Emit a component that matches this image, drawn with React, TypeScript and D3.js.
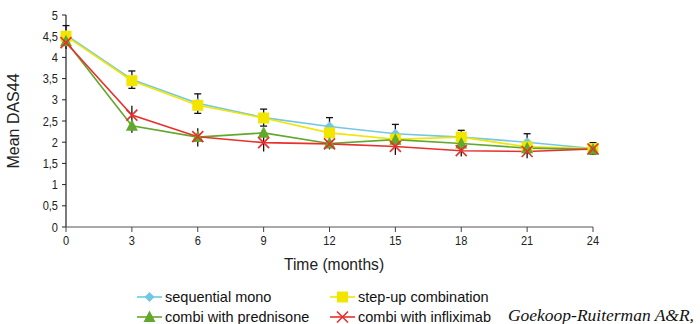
import React from "react";
import * as d3 from "d3";

const months = [0, 3, 6, 9, 12, 15, 18, 21, 24];
const yTicks = [0, 0.5, 1, 1.5, 2, 2.5, 3, 3.5, 4, 4.5, 5];
const yTickLabels = ["0", "0,5", "1", "1,5", "2", "2,5", "3", "3,5", "4", "4,5", "5"];

const seqMono = [4.53, 3.48, 2.92, 2.58, 2.37, 2.2, 2.12, 2.0, 1.85];
const stepUp = [4.5, 3.45, 2.87, 2.57, 2.22, 2.07, 2.12, 1.89, 1.85];
const prednisone = [4.38, 2.39, 2.12, 2.22, 1.97, 2.06, 1.97, 1.86, 1.83];
const infliximab = [4.35, 2.64, 2.13, 1.99, 1.96, 1.9, 1.8, 1.78, 1.84];

// error bar extents (upper for sequential mono, lower for step-up, both for infliximab)
const seqMonoUpper = [4.75, 3.68, 3.14, 2.78, 2.58, 2.42, 2.28, 2.2, 1.99];
const stepUpLower = [4.3, 3.27, 2.68, 2.38, 2.02, 1.95, 1.92, 1.75, 1.72];
const inflixUpper = [4.5, 2.86, 2.33, 2.15, 2.08, 2.05, 1.95, 1.93, 1.95];
const inflixLower = [4.2, 2.22, 1.9, 1.78, 1.83, 1.7, 1.66, 1.62, 1.7];

const seriesNames = ["sequential mono", "step-up combination", "combi with prednisone", "combi with infliximab"];
const colors = ["#72c8e4", "#f2e500", "#62a82a", "#e8302c"];

const W = 700, H = 324;
const x = d3.scaleLinear().domain([0, 24]).range([66, 593]);
const y = d3.scaleLinear().domain([0, 5]).range([227, 15]);
const font = "'Liberation Sans', Arial, sans-serif";

function Marker({ kind, cx, cy, color }: { kind: number; cx: number; cy: number; color: string }) {
  if (kind === 0) {
    const s = 5;
    return <path d={`M${cx},${cy - s}L${cx + s},${cy}L${cx},${cy + s}L${cx - s},${cy}Z`} fill={color} />;
  }
  if (kind === 1) {
    return <rect x={cx - 5.5} y={cy - 5.5} width={11} height={11} fill={color} />;
  }
  if (kind === 2) {
    return <path d={`M${cx},${cy - 6.5}L${cx + 6},${cy + 5}L${cx - 6},${cy + 5}Z`} fill={color} />;
  }
  const s = 5.5;
  return (
    <path d={`M${cx - s},${cy - s}L${cx + s},${cy + s}M${cx - s},${cy + s}L${cx + s},${cy - s}`} stroke={color} strokeWidth={1.6} />
  );
}

function Narrow({ x: tx, y: ty, anchor, size, sx = 0.85, children }: { x: number; y: number; anchor: string; size: number; sx?: number; children: any }) {
  return (
    <text
      transform={`translate(${tx},${ty}) scale(${sx},1)`}
      textAnchor={anchor}
      fontSize={size}
      fontFamily={font}
      fill="#222"
    >
      {children}
    </text>
  );
}

export default function App() {
  const data = [seqMono, stepUp, prednisone, infliximab];
  const line = d3.line<number>().x((_, i) => x(months[i])).y((d) => y(d));
  return (
    <svg width={W} height={H} style={{ position: "absolute", left: 0, top: 0, background: "#fff" }}>
      {/* axes */}
      <line x1={66} x2={66} y1={15} y2={227} stroke="#222" strokeWidth={1.2} />
      <line x1={66} x2={593} y1={227} y2={227} stroke="#555" strokeWidth={1.2} />
      {yTicks.map((t, i) => (
        <g key={"y" + i}>
          <line x1={62} x2={66} y1={y(t)} y2={y(t)} stroke="#222" />
          <Narrow x={58} y={y(t) + 4.5} anchor="end" size={13}>
            {yTickLabels[i]}
          </Narrow>
        </g>
      ))}
      {months.map((m) => (
        <g key={"x" + m}>
          <line x1={x(m)} x2={x(m)} y1={227} y2={232} stroke="#444" />
          <Narrow x={x(m)} y={245} anchor="middle" size={13}>
            {m}
          </Narrow>
        </g>
      ))}
      <Narrow x={334} y={270} anchor="middle" size={17} sx={0.92}>
        Time (months)
      </Narrow>
      <text transform="translate(19,121) rotate(-90)" textAnchor="middle" fontSize={16} fontFamily={font} fill="#222">
        Mean DAS44
      </text>

      {/* lines */}
      {data.map((d, si) => (
        <path key={"l" + si} d={line(d) || ""} fill="none" stroke={colors[si]} strokeWidth={1.6} />
      ))}

      {/* error bars */}
      {months.map((m, i) => (
        <g key={"e" + i} stroke="#111" strokeWidth={1.3}>
          <line x1={x(m)} x2={x(m)} y1={y(seqMono[i])} y2={y(seqMonoUpper[i])} />
          <line x1={x(m) - 3.5} x2={x(m) + 3.5} y1={y(seqMonoUpper[i])} y2={y(seqMonoUpper[i])} />
          <line x1={x(m)} x2={x(m)} y1={y(stepUp[i])} y2={y(stepUpLower[i])} />
          <line x1={x(m) - 3.5} x2={x(m) + 3.5} y1={y(stepUpLower[i])} y2={y(stepUpLower[i])} />
          <line x1={x(m)} x2={x(m)} y1={y(inflixUpper[i])} y2={y(inflixLower[i])} />
        </g>
      ))}

      {/* markers */}
      {data.map((d, si) =>
        d.map((v, i) => <Marker key={"m" + si + "-" + i} kind={si} cx={x(months[i])} cy={y(v)} color={colors[si]} />)
      )}

      {/* legend */}
      {seriesNames.map((name, si) => {
        const col = si % 2;
        const row = Math.floor(si / 2);
        const lx = col === 0 ? 137 : 330;
        const ly = row === 0 ? 297 : 317;
        return (
          <g key={"lg" + si}>
            <line x1={lx} x2={lx + 25} y1={ly} y2={ly} stroke={colors[si]} strokeWidth={1.6} />
            <Marker kind={si} cx={lx + 12.5} cy={ly} color={colors[si]} />
            <text x={lx + 28} y={ly + 5} fontSize={14.5} fontFamily={font} fill="#111">
              {name}
            </text>
          </g>
        );
      })}
      <text x={508} y={321} fontSize={16} textLength={186} lengthAdjust="spacingAndGlyphs" fontStyle="italic" fontFamily="'Liberation Serif', 'Times New Roman', serif" fill="#111">
        Goekoop-Ruiterman A&amp;R,
      </text>
    </svg>
  );
}
